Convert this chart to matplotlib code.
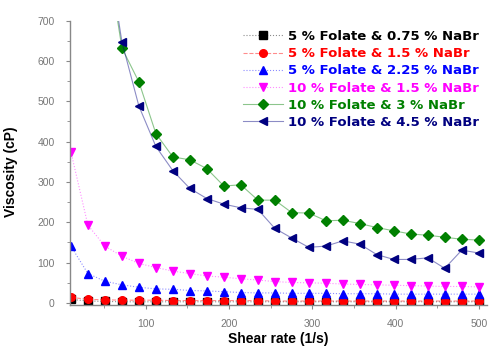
import numpy as np
import matplotlib.pyplot as plt
from matplotlib.colors import to_rgba
from matplotlib.ticker import MultipleLocator

# shear rate ramp (1/s), 25 points
shear = [10, 30.4, 50.8, 71.3, 91.7, 112.1, 132.5, 152.9, 173.3, 193.8,
         214.2, 234.6, 255, 275.4, 295.8, 316.3, 336.7, 357.1, 377.5, 397.9,
         418.3, 438.8, 459.2, 479.6, 500]

# viscosity (cP)
f5_na075 = [9, 5, 4, 3, 3, 3, 3, 3, 3, 3, 3, 3, 3, 3, 3, 3, 3, 3, 3, 3, 3, 3, 3, 3, 3]
f5_na15 = [14, 9, 8, 7, 7, 7, 6, 6, 6, 6, 6, 6, 5, 5, 5, 5, 5, 5, 5, 5, 5, 5, 5, 5, 5]
f5_na225 = [141, 73, 54, 45, 39, 35, 34, 31, 30, 28, 26, 25, 25, 24, 24, 24,
            23, 23, 23, 22, 22, 22, 22, 22, 22]
f10_na15 = [375, 193, 141, 116, 98, 88, 79, 73, 67, 64, 60, 57, 53, 51, 50, 49,
            47, 46, 45, 44, 43, 42, 41, 41, 40]
# first points of the 10 % folate / 3 and 4.5 % NaBr runs lie above the axis
f10_na3 = [np.nan, np.nan, 900, 632, 548, 420, 362, 355, 333, 290, 293, 255, 255,
           224, 223, 204, 205, 197, 187, 179, 171, 168, 163, 158, 156]
f10_na45 = [np.nan, np.nan, 920, 647, 488, 388, 328, 284, 259, 245, 236, 232, 185,
            161, 138, 141, 154, 146, 120, 108, 108, 112, 86, 131, 124]

labels = ['5 % Folate & 0.75 % NaBr', '5 % Folate & 1.5 % NaBr',
          '5 % Folate & 2.25 % NaBr', '10 % Folate & 1.5 % NaBr',
          '10 % Folate & 3 % NaBr', '10 % Folate & 4.5 % NaBr']

plt.rcParams['font.family'] = ['Liberation Sans', 'DejaVu Sans']

fig = plt.figure(figsize=(4.9, 3.49), dpi=100)
ax = fig.add_axes([0.143, 0.126, 0.851, 0.815])

series = [
    (f5_na075, 'black', 's', ':'),
    (f5_na15, 'red', 'o', '--'),
    (f5_na225, 'blue', '^', ':'),
    (f10_na15, 'magenta', 'v', ':'),
    (f10_na3, 'green', 'D', '-'),
    (f10_na45, 'navy', '<', '-'),
]
for (vals, c, m, ls), lab in zip(series, labels):
    # faint connecting line, solid markers
    ax.plot(shear, vals, color=to_rgba(c, 0.45), lw=0.8, ls=ls,
            marker=m, ms=5.5 if m != 'D' else 4.8, mec=c, mfc=c, label=lab)

ax.set_xlim(9, 510)
ax.set_ylim(-5, 700)
ax.xaxis.set_major_locator(MultipleLocator(100))
ax.xaxis.set_minor_locator(MultipleLocator(50))
ax.yaxis.set_major_locator(MultipleLocator(100))
ax.yaxis.set_minor_locator(MultipleLocator(50))

for s in ['top', 'right']:
    ax.spines[s].set_visible(False)
for s in ['left', 'bottom']:
    ax.spines[s].set_color('#888888')
    ax.spines[s].set_linewidth(1.0)

ax.tick_params(which='major', length=3, width=0.8, color='#888888',
               labelsize=7.5, labelcolor='#777777')
ax.tick_params(axis='x', which='major', pad=7)
ax.tick_params(axis='y', which='major', pad=8)
ax.tick_params(which='minor', length=2, width=0.6, color='#888888')
ax.set_xticks([100, 200, 300, 400, 500])

ax.set_xlabel('Shear rate (1/s)', fontsize=10, fontweight='bold')
ax.set_ylabel('Viscosity (cP)', fontsize=10, fontweight='bold')
ax.xaxis.set_label_coords(0.5, -0.095)
ax.yaxis.set_label_coords(-0.125, 0.47)

leg = ax.legend(loc='upper right', bbox_to_anchor=(1.0, 0.995), frameon=False,
                prop={'family': 'DejaVu Sans', 'weight': 'bold', 'size': 9.5},
                handlelength=3.0, handletextpad=0.4,
                labelspacing=0.32, borderaxespad=0.2)
for txt, (_, c, _, _) in zip(leg.get_texts(), series):
    txt.set_color(c)

fig.savefig('out.png', dpi=100)
